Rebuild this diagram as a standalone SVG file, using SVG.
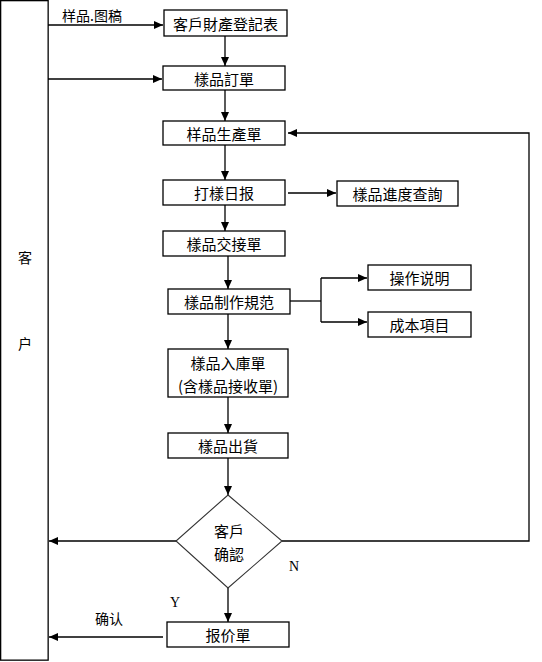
<svg xmlns="http://www.w3.org/2000/svg" width="542" height="662" viewBox="0 0 542 662">
<style>
  .box{fill:#fff;stroke:#000;stroke-width:1.3}
  .dia{fill:#fff;stroke:#333;stroke-width:1.1}
  .t{font-family:"Noto Sans CJK SC","Noto Sans CJK TC",sans-serif;font-size:15px;fill:#000;text-anchor:middle;dominant-baseline:central}
  .s{font-family:"Noto Sans CJK SC","Noto Sans CJK TC",sans-serif;font-size:14px;fill:#000;dominant-baseline:central}
  .l{font-family:"Liberation Serif",serif;font-size:14px;fill:#000;dominant-baseline:central}
  .c{fill:none;stroke:#000;stroke-width:1.3}
</style>
<defs>
  <marker id="ah" markerWidth="9" markerHeight="8" refX="9" refY="4" orient="auto" markerUnits="userSpaceOnUse">
    <path d="M0,0 L9,4 L0,8 Z" fill="#000"/>
  </marker>
</defs>

<g id="customer">
  <rect class="box" x="0.65" y="0.65" width="47.5" height="659.5"/>
  <text class="t" x="25" y="257" style="font-size:14px">客</text>
  <text class="t" x="25" y="343" style="font-size:14px">户</text>
</g>

<g id="connectors">
  <path class="c" d="M48,25 H163" marker-end="url(#ah)"/>
  <text class="s" x="62" y="15">样品.图稿</text>
  <path class="c" d="M48,79 H162" marker-end="url(#ah)"/>
  <path class="c" d="M225,36 V66" marker-end="url(#ah)"/>
  <path class="c" d="M225,90 V121" marker-end="url(#ah)"/>
  <path class="c" d="M225,145 V180" marker-end="url(#ah)"/>
  <path class="c" d="M225,205 V231" marker-end="url(#ah)"/>
  <path class="c" d="M288,193 H336" marker-end="url(#ah)"/>
  <path class="c" d="M228,256 V289" marker-end="url(#ah)"/>
  <path class="c" d="M290,301 H321"/>
  <path class="c" d="M321,278 V322"/>
  <path class="c" d="M321,278 H367" marker-end="url(#ah)"/>
  <path class="c" d="M321,322 H367" marker-end="url(#ah)"/>
  <path class="c" d="M228,314 V349" marker-end="url(#ah)"/>
  <path class="c" d="M228,397 V433" marker-end="url(#ah)"/>
  <path class="c" d="M228,458 V495" marker-end="url(#ah)"/>
  <path class="c" d="M176,541 H49" marker-end="url(#ah)"/>
  <path class="c" d="M282,541 H529 V133 H288" marker-end="url(#ah)"/>
  <path class="c" d="M228,588 V622" marker-end="url(#ah)"/>
  <path class="c" d="M163,637 H49" marker-end="url(#ah)"/>
  <text class="l" x="289" y="566">N</text>
  <text class="l" x="170" y="602">Y</text>
  <text class="s" x="95" y="618">确认</text>
</g>

<g id="n1"><rect class="box" x="164" y="10" width="123" height="26"/><text class="t" x="225.5" y="23">客戶財產登記表</text></g>
<g id="n2"><rect class="box" x="163" y="66" width="122" height="24"/><text class="t" x="224" y="78">樣品訂單</text></g>
<g id="n3"><rect class="box" x="163" y="121" width="122" height="24"/><text class="t" x="224" y="133">样品生產單</text></g>
<g id="n4"><rect class="box" x="163" y="180" width="122" height="25"/><text class="t" x="224" y="192.5">打樣日报</text></g>
<g id="n5"><rect class="box" x="337" y="181" width="121" height="25"/><text class="t" x="397.5" y="193.5">樣品進度查詢</text></g>
<g id="n6"><rect class="box" x="163" y="231" width="122" height="25"/><text class="t" x="224" y="243.5">樣品交接單</text></g>
<g id="n7"><rect class="box" x="168" y="289" width="122" height="25"/><text class="t" x="229" y="301.5">樣品制作規范</text></g>
<g id="n8"><rect class="box" x="368" y="265" width="103" height="25"/><text class="t" x="419.5" y="277.5">操作说明</text></g>
<g id="n9"><rect class="box" x="368" y="312" width="103" height="25"/><text class="t" x="419.5" y="324.5">成本項目</text></g>
<g id="n10"><rect class="box" x="168" y="349" width="120" height="48"/><text class="t" x="228" y="362">樣品入庫單</text><text class="t" x="228" y="385">(含樣品接收單)</text></g>
<g id="n11"><rect class="box" x="168" y="433" width="120" height="25"/><text class="t" x="228" y="445.5">樣品出貨</text></g>
<g id="n12"><path class="dia" d="M228,495 L282,541 L228,588 L176,541 Z"/><text class="t" x="229" y="530">客戶</text><text class="t" x="229" y="553">确認</text></g>
<g id="n13"><rect class="box" x="167" y="622" width="122" height="25"/><text class="t" x="228" y="634.5">报价單</text></g>
</svg>
